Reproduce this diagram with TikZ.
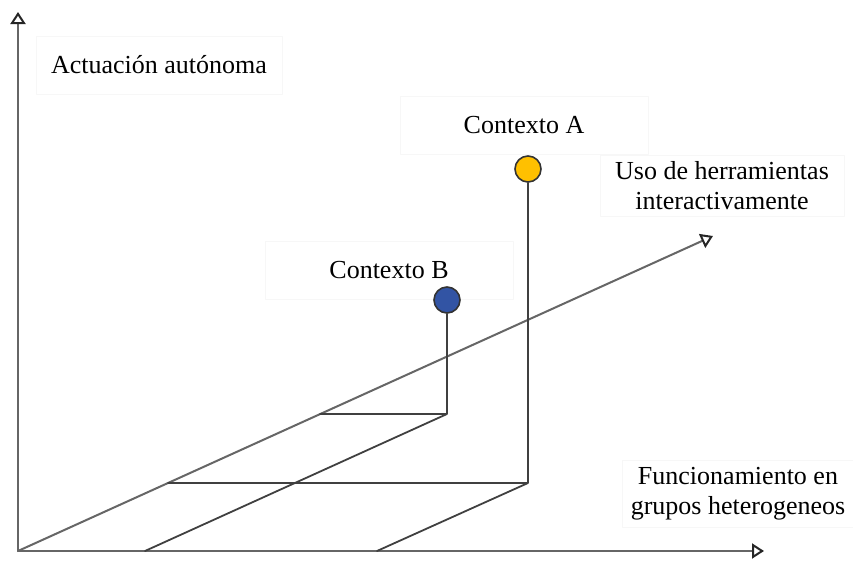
\documentclass[tikz,border=0pt]{standalone}
\usepackage{fontspec}
\setmainfont{Liberation Serif}
\usetikzlibrary{arrows.meta}
\definecolor{ambar}{RGB}{255,192,0}
\definecolor{azul}{RGB}{50,84,164}
\begin{document}
\begin{tikzpicture}[x=0.5pt,y=-0.5pt,>={Triangle[open,length=6pt,width=7.5pt,color=black!85]},line join=round,line cap=round,
	axis/.style={line width=1pt,black!60},
	guide/.style={line width=0.9pt,black!75},
	lbl/.style={draw=black!3,line width=0.5pt,font=\fontsize{13}{15}\selectfont,align=center,minimum height=29pt},
	dot/.style={circle,draw=black!80,line width=0.8pt,minimum size=13pt,inner sep=0pt}]
		\useasboundingbox (0,0) rectangle (853,562);
		%\draw[gray!30] (0,0) grid[step=50] (853,562);
		\coordinate (O) at (18,551);
		\coordinate (Y) at (18,12);
		\coordinate (X) at (764,551);
		\coordinate (Z) at (713,236);
		\draw[axis,->] (O)--(Y);
		\draw[axis,->] (O)--(X);
		\draw[axis,->] (O)--(Z);
		\node[lbl,minimum width=123pt] (auto) at (159,65) {Actuación autónoma};
		\node[lbl,minimum width=124pt] (labA) at (524,125) {Contexto A};
		\node[lbl,minimum width=124pt] (labB) at (389,270) {Contexto B};
		\node[lbl,minimum width=122pt] (herr) at (722,186) {Uso de herramientas\\interactivamente};
		\node[lbl,minimum width=116pt] (grup) at (738,494) {Funcionamiento en\\grupos heterogeneos};
		\node[dot,fill=ambar] (ctxA) at (528,169) {};
		\node[dot,fill=azul] (ctxB) at (447,300) {};
		\coordinate (a1) at (528,483);
		\coordinate (a2) at (168,483);
		\coordinate (a3) at (377,551);
		\coordinate (b1) at (447,414);
		\coordinate (b2) at (320,414);
		\coordinate (b3) at (145,551);
		\draw[guide] (ctxA)--(a1)--(a2) (a1)--(a3);
		\draw[guide] (ctxB)--(b1)--(b2) (b1)--(b3);
	\end{tikzpicture}
\end{document}
